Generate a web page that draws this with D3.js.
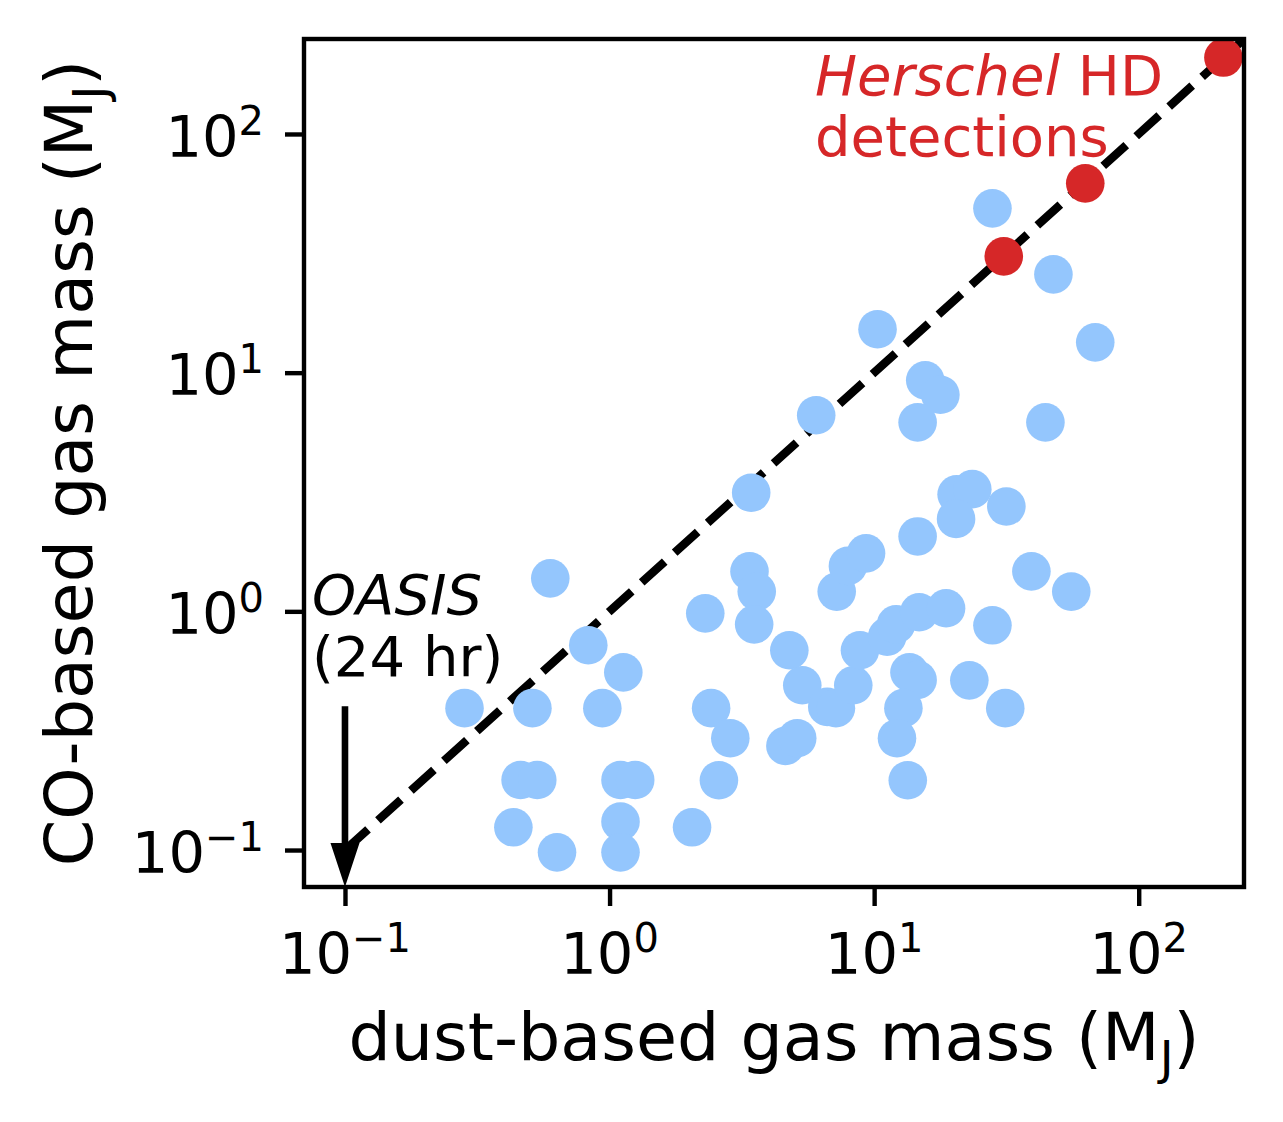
<!DOCTYPE html>
<html>
<head>
<meta charset="utf-8">
<script src="https://cdn.jsdelivr.net/npm/d3@7"></script>
<style>
  body { margin: 0; background: #fff; }
  text { font-family: "DejaVu Sans", sans-serif; }
</style>
</head>
<body>
<svg width="1283" height="1122"></svg>
<script>
// dust-based vs CO-based gas masses (Jupiter masses)
const dustMass = [
  28.0, 47.6, 68.5, 10.3, 15.6, 17.8, 14.6, 44.4, 6.04, 3.43,
  3.38, 3.60, 3.52, 2.30, 4.78, 5.35, 6.65, 7.17, 8.34, 8.84,
  11.2, 12.1, 14.8, 18.7, 7.22, 7.96, 9.32, 14.6, 20.5, 23.5,
  20.4, 31.6, 39.3, 55.6, 28.0, 13.6, 14.6, 12.9, 12.2, 13.4,
  22.9, 31.3, 2.42, 2.86, 2.59, 4.62, 5.12, 2.05, 0.597, 0.831,
  1.127, 0.283, 0.511, 0.939, 0.461, 0.533, 1.10, 1.25, 0.433, 0.633,
  1.10, 1.10
];
const coMass = [
  48.8, 25.8, 13.4, 15.2, 9.29, 8.08, 6.19, 6.19, 6.63, 3.14,
  1.47, 1.21, 0.882, 0.981, 0.687, 0.49, 0.398, 0.393, 0.49, 0.687,
  0.783, 0.882, 0.991, 1.03, 1.21, 1.55, 1.75, 2.06, 3.09, 3.25,
  2.44, 2.75, 1.47, 1.21, 0.874, 0.555, 0.516, 0.393, 0.294, 0.196,
  0.514, 0.393, 0.393, 0.294, 0.196, 0.273, 0.294, 0.1245, 1.375, 0.721,
  0.555, 0.393, 0.393, 0.393, 0.1965, 0.1965, 0.1965, 0.1965, 0.1245, 0.0978,
  0.1315, 0.0978
];
const hdDust = [30.9, 62.8, 209];
const hdCO = [30.7, 62.1, 209];

const axisLim = [0.07, 250];
const majorTicks = [0.1, 1, 10, 100];
const tickExp = ['\u22121', '0', '1', '2'];
const oasisLimit = 0.1;   // 24 hr OASIS sensitivity
const oasisTop = 0.4;

const svg = d3.select('svg');
const L = 304, R = 1244, T = 39, B = 887;

const scX = d3.scaleLog().domain(axisLim).range([L, R]);
const scY = d3.scaleLog().domain(axisLim).range([B, T]);

svg.append('clipPath').attr('id', 'plotclip')
  .append('rect').attr('x', L).attr('y', T).attr('width', R - L).attr('height', B - T);

const plot = svg.append('g').attr('clip-path', 'url(#plotclip)');

// one-to-one line
plot.append('line')
  .attr('x1', scX(0.1)).attr('y1', scY(0.1))
  .attr('x2', scX(1000)).attr('y2', scY(1000))
  .attr('stroke', '#000').attr('stroke-width', 8.4)
  .attr('stroke-dasharray', '31,13.4');

const blue = dustMass.map((d, i) => [d, coMass[i]]);
plot.append('g').selectAll('circle').data(blue).enter()
  .append('circle')
  .attr('cx', d => scX(d[0])).attr('cy', d => scY(d[1]))
  .attr('r', 19.3).attr('fill', '#94c6fd');

const red = hdDust.map((d, i) => [d, hdCO[i]]);
plot.append('g').selectAll('circle').data(red).enter()
  .append('circle')
  .attr('cx', d => scX(d[0])).attr('cy', d => scY(d[1]))
  .attr('r', 19.3).attr('fill', '#d62728');

// OASIS arrow
const ax = scX(oasisLimit), ay0 = scY(oasisTop), ay1 = scY(axisLim[0]);
const headL = 44, headW = 14.5, shaftW = 3.3;
svg.append('path')
  .attr('d', `M${ax - shaftW},${ay0} L${ax + shaftW},${ay0} L${ax + shaftW},${ay1 - headL}
    L${ax + headW},${ay1 - headL} L${ax},${ay1} L${ax - headW},${ay1 - headL}
    L${ax - shaftW},${ay1 - headL} Z`)
  .attr('fill', '#000');

// ticks
const allTicks = scX.ticks();
const minorTicks = allTicks.filter(v => Math.abs(Math.log10(v) - Math.round(Math.log10(v))) > 1e-6);

const gx = svg.append('g').attr('transform', `translate(0,${B})`);
gx.call(d3.axisBottom(scX).tickValues(minorTicks).tickSize(11).tickFormat(''));
gx.call(d3.axisBottom(scX).tickValues(majorTicks).tickSize(19).tickFormat(''));
const gy = svg.append('g').attr('transform', `translate(${L},0)`);
gy.call(d3.axisLeft(scY).tickValues(minorTicks).tickSize(11).tickFormat(''));
gy.call(d3.axisLeft(scY).tickValues(majorTicks).tickSize(19).tickFormat(''));
svg.selectAll('.domain').remove();
gx.selectAll('line').attr('stroke-width', 3.3);
gy.selectAll('line').attr('stroke-width', 3.3);
gx.selectAll('.tick').filter(d => majorTicks.includes(d)).select('line').attr('stroke-width', 4.4);
gy.selectAll('.tick').filter(d => majorTicks.includes(d)).select('line').attr('stroke-width', 4.4);

// tick labels
majorTicks.forEach((v, i) => {
  const tx = svg.append('text')
    .attr('x', scX(v)).attr('y', 974)
    .attr('text-anchor', 'middle').attr('font-size', 57.5);
  tx.append('tspan').text('10');
  tx.append('tspan').attr('dy', -22).attr('font-size', 40).text(tickExp[i]);

  const ty = svg.append('text')
    .attr('x', 264).attr('y', scY(v) + 22.7)
    .attr('text-anchor', 'end').attr('font-size', 57.5);
  ty.append('tspan').text('10');
  ty.append('tspan').attr('dy', -22).attr('font-size', 40).text(tickExp[i]);
});

// frame
svg.append('rect')
  .attr('x', L).attr('y', T).attr('width', R - L).attr('height', B - T)
  .attr('fill', 'none').attr('stroke', '#000').attr('stroke-width', 4.4);

// axis labels
const xl = svg.append('text')
  .attr('x', (L + R) / 2).attr('y', 1060)
  .attr('text-anchor', 'middle').attr('font-size', 66.7);
xl.append('tspan').text('dust-based gas mass (M');
xl.append('tspan').attr('dy', 14).attr('font-size', 47).text('J');
xl.append('tspan').attr('dy', -14).text(')');

const yl = svg.append('text')
  .attr('transform', `translate(92,${(T + B) / 2}) rotate(-90)`)
  .attr('text-anchor', 'middle').attr('font-size', 66.7);
yl.append('tspan').text('CO-based gas mass (M');
yl.append('tspan').attr('dy', 14).attr('font-size', 47).text('J');
yl.append('tspan').attr('dy', -14).text(')');

// annotations
const hd = svg.append('text').attr('x', 815).attr('y', 95)
  .attr('font-size', 56).attr('fill', '#d62728');
hd.append('tspan').attr('font-style', 'italic').text('Herschel');
hd.append('tspan').text(' HD');
svg.append('text').attr('x', 815).attr('y', 156)
  .attr('font-size', 56).attr('fill', '#d62728').text('detections');

svg.append('text').attr('x', 312).attr('y', 614)
  .attr('font-size', 56).attr('font-style', 'italic').text('OASIS');
svg.append('text').attr('x', 312).attr('y', 676)
  .attr('font-size', 56).text('(24 hr)');
</script>
</body>
</html>
